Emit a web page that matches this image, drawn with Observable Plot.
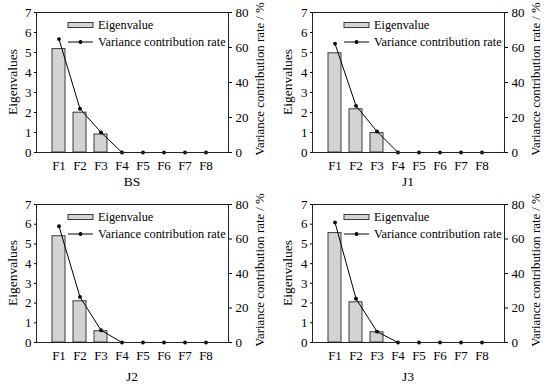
<!DOCTYPE html>
<html>
<head>
<meta charset="utf-8">
<script src="https://cdn.jsdelivr.net/npm/d3@7"></script>
<script src="https://cdn.jsdelivr.net/npm/@observablehq/plot@0.6"></script>
<style>
  html, body { margin: 0; padding: 0; background: white; }
  #root { position: relative; width: 550px; height: 391px; overflow: hidden; }
  .panel { position: absolute; }
</style>
</head>
<body>
<div id="root"></div>
<script>
const categories = ["F1", "F2", "F3", "F4", "F5", "F6", "F7", "F8"];
const panelNames = ["BS", "J1", "J2", "J3"];

const eigBS = [5.17, 1.99, 0.90, 0, 0, 0, 0, 0];
const varBS = [64.8, 25.0, 11.5, 0, 0, 0, 0, 0];
const eigJ1 = [4.96, 2.16, 0.97, 0, 0, 0, 0, 0];
const varJ1 = [62.2, 26.7, 12.0, 0, 0, 0, 0, 0];
const eigJ2 = [5.39, 2.09, 0.57, 0, 0, 0, 0, 0];
const varJ2 = [67.4, 26.4, 7.1, 0, 0, 0, 0, 0];
const eigJ3 = [5.55, 2.04, 0.52, 0, 0, 0, 0, 0];
const varJ3 = [69.6, 25.4, 6.3, 0, 0, 0, 0, 0];

const eigTicks = [0, 1, 2, 3, 4, 5, 6, 7];
const varTicks = [0, 20, 40, 60, 80];
const legendLabels = ["Eigenvalue", "Variance contribution rate"];
const leftLabel = "Eigenvalues";
const rightLabel = "Variance contribution rate / %";

const EIG_MAX = 7, VAR_MAX = 80;
const toEig = v => v * EIG_MAX / VAR_MAX;

const FONT = "'Liberation Serif', 'Times New Roman', serif";

const panels = [
  {name: panelNames[0], eig: eigBS, vr: varBS, left: 0,   top: 0,   h: 195, ml: 36, mr: 47, mt: 12, mb: 43, titleDy: 29},
  {name: panelNames[1], eig: eigJ1, vr: varJ1, left: 275, top: 0,   h: 195, ml: 37, mr: 46, mt: 12, mb: 43, titleDy: 29},
  {name: panelNames[2], eig: eigJ2, vr: varJ2, left: 0,   top: 195, h: 196, ml: 36, mr: 47, mt: 9,  mb: 49, titleDy: 34},
  {name: panelNames[3], eig: eigJ3, vr: varJ3, left: 275, top: 195, h: 196, ml: 37, mr: 46, mt: 9,  mb: 49, titleDy: 34}
];

const root = document.getElementById("root");

for (const p of panels) {
  const rows = categories.map((c, i) => ({cat: c, eig: p.eig[i], vr: p.vr[i]}));
  const W = 275;
  const chart = Plot.plot({
    width: W, height: p.h,
    marginLeft: p.ml, marginRight: p.mr, marginTop: p.mt, marginBottom: p.mb,
    style: {fontFamily: FONT, fontSize: "13px", background: "white", color: "black", overflow: "visible"},
    x: {type: "band", domain: categories, paddingInner: 0.38, paddingOuter: 0.67},
    y: {domain: [0, EIG_MAX]},
    marks: [
      Plot.barY(rows, {x: "cat", y: "eig", fill: "#d3d3d3", stroke: "#3a3a3a", strokeWidth: 1}),
      Plot.line(rows, {x: "cat", y: d => toEig(d.vr), stroke: "black", strokeWidth: 1}),
      Plot.dot(rows, {x: "cat", y: d => toEig(d.vr), r: 1.9, fill: "black", stroke: "none"}),
      Plot.frame({stroke: "#222", strokeWidth: 1}),
      Plot.axisY({anchor: "left", ticks: eigTicks, tickFormat: d => String(d), tickSize: 2, tickPadding: 3, label: null}),
      Plot.axisY({anchor: "right", ticks: varTicks.map(toEig), tickFormat: d => String(Math.round(d * VAR_MAX / EIG_MAX)), tickSize: 3, tickPadding: 4, label: null}),
      Plot.axisX({anchor: "bottom", tickSize: 0, tickPadding: 8, label: null})
    ]
  });

  const svg = d3.select(chart);
  const fx0 = p.ml, fx1 = W - p.mr, fy0 = p.mt, fy1 = p.h - p.mb;
  const cy = (fy0 + fy1) / 2;

  const txt = (sel, size, anchor) => sel
    .attr("text-anchor", anchor).attr("dominant-baseline", "central")
    .style("font-family", FONT).style("font-size", size).attr("fill", "black");

  // axis titles
  txt(svg.append("text").attr("transform", `translate(12.5,${cy}) rotate(-90)`), "13.5px", "middle").text(leftLabel);
  txt(svg.append("text").attr("transform", `translate(${fx1 + 32},${cy - 3}) rotate(-90)`), "12.8px", "middle").text(rightLabel);
  // panel title
  txt(svg.append("text").attr("x", (fx0 + fx1) / 2).attr("y", fy1 + p.titleDy), "13.5px", "middle").text(p.name);

  // legend
  const lx = fx0 + 32, ly1 = fy0 + 13, ly2 = fy0 + 30;
  const g = svg.append("g");
  g.append("rect").attr("x", lx).attr("y", ly1 - 2.5).attr("width", 25).attr("height", 5)
    .attr("fill", "#d3d3d3").attr("stroke", "#3a3a3a").attr("stroke-width", 1);
  txt(g.append("text").attr("x", lx + 30).attr("y", ly1), "12.3px", "start").text(legendLabels[0]);
  g.append("line").attr("x1", lx).attr("x2", lx + 25).attr("y1", ly2).attr("y2", ly2)
    .attr("stroke", "black").attr("stroke-width", 1);
  g.append("circle").attr("cx", lx + 12.5).attr("cy", ly2).attr("r", 1.9).attr("fill", "black");
  txt(g.append("text").attr("x", lx + 30).attr("y", ly2), "12.3px", "start").text(legendLabels[1]);

  const div = document.createElement("div");
  div.className = "panel";
  div.style.left = p.left + "px";
  div.style.top = p.top + "px";
  div.appendChild(chart);
  root.appendChild(div);
}
</script>
</body>
</html>
